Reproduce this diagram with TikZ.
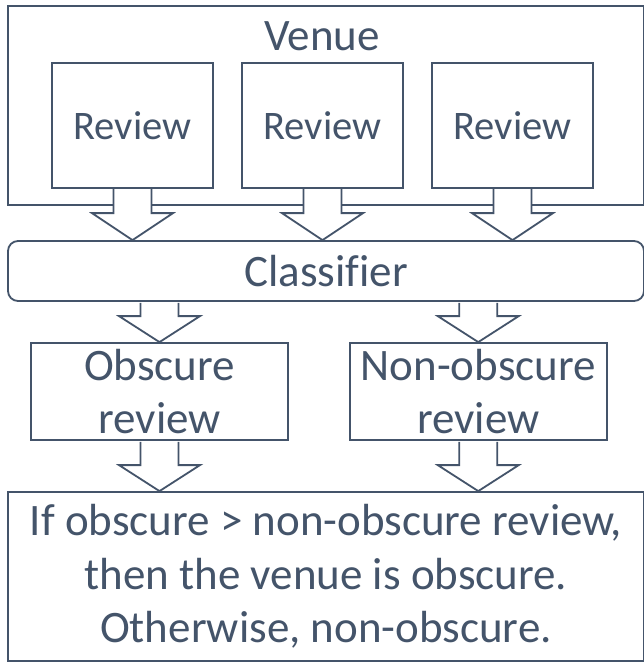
\documentclass[tikz,border=0pt]{standalone}
\usepackage{fontspec}
\setmainfont[Ligatures={NoCommon}]{Carlito}
\usetikzlibrary{calc}
\definecolor{ln}{HTML}{44546A}
\newcommand{\blkarrow}[3]{%
  \draw[conn] let \p1=(#1), \p2=(#2) in
   (\x1-19pt,\y1-1pt) -- (\x1-19pt,\y2+#3pt) -- (\x1-40.5pt,\y2+#3pt) -- (\x1,\y2)
   -- (\x1+40.5pt,\y2+#3pt) -- (\x1+19pt,\y2+#3pt) -- (\x1+19pt,\y1-1pt);}
\begin{document}
\begin{tikzpicture}[x=1pt,y=-1pt,
  box/.style={draw=ln, line width=1.8pt, fill=white, inner sep=0pt, text=ln, align=center},
  bigtxt/.style={font=\fontsize{45}{53.7}\selectfont},
  smalltxt/.style={font=\fontsize{40.5}{48}\selectfont},
  conn/.style={draw=ln, line width=1.8pt, fill=white, line join=miter}]
\useasboundingbox (0,0) rectangle (644,662);
\fill[white] (0,0) rectangle (644,662);
% venue
\node[box, minimum width=636pt, minimum height=199pt] (venue) at (326,105.5) {};
\node[text=ln, bigtxt, anchor=base, inner sep=0pt] (vtext) at (322,50) {Venue};
% review box centres
\path (132.5,125.5) coordinate (c1) (322.5,125.5) coordinate (c2) (512.5,125.5) coordinate (c3);
\node[box, minimum width=636pt, minimum height=60pt, rounded corners=10pt, bigtxt] (cls) at (326,271) {Classifier};
\foreach \i in {1,2,3}{
  \coordinate (s\i) at ($(c\i)+(0,62.5)$);
  \blkarrow{s\i}{s\i |- cls.north}{27}
}
\node[box, minimum width=161pt, minimum height=125pt, smalltxt] (r1) at (c1) {Review};
\node[box, minimum width=161pt, minimum height=125pt, smalltxt] (r2) at (c2) {Review};
\node[box, minimum width=161pt, minimum height=125pt, smalltxt] (r3) at (c3) {Review};
% obscure / non-obscure
\node[box, minimum width=257pt, minimum height=97pt, bigtxt] (ob) at (159.5,391.5) {Obscure\\review};
\node[box, minimum width=257pt, minimum height=97pt, bigtxt] (nob) at (478.25,391.5) {Non-obscure\\review};
\blkarrow{ob.north |- cls.south}{ob.north}{26}
\blkarrow{nob.north |- cls.south}{nob.north}{26}
% result
\node[box, minimum width=636pt, minimum height=169pt, bigtxt] (res) at (326,576.5)
  {If obscure > non-obscure review,\\then the venue is obscure.\\Otherwise, non-obscure.};
\blkarrow{ob.south}{ob.south |- res.north}{26}
\blkarrow{nob.south}{nob.south |- res.north}{26}
\end{tikzpicture}
\end{document}
